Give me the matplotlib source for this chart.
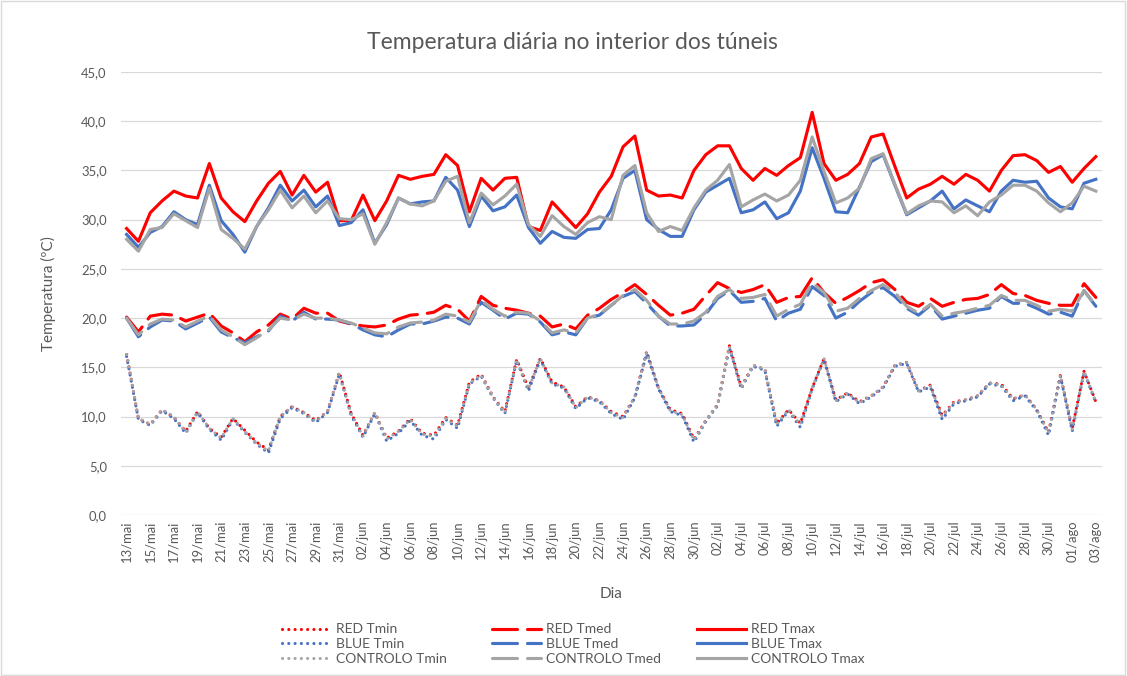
import matplotlib
matplotlib.use("Agg")
import matplotlib.pyplot as plt
import pandas as pd

plt.rcParams['font.family'] = ['Lato', 'DejaVu Sans']

# dias (13/mai a 03/ago)
meses = {5: 'mai', 6: 'jun', 7: 'jul', 8: 'ago'}
dias = pd.date_range('2021-05-13', '2021-08-03')
rotulos = [f"{d.day:02d}/{meses[d.month]}" for d in dias]

tmin_red = [16.3, 9.8, 9.2, 10.7, 9.9, 8.5, 10.5, 8.8, 7.9, 9.8,
            8.6, 7.4, 6.6, 10.0, 11.0, 10.4, 9.6, 10.5, 14.5, 10.3,
            8.1, 10.4, 7.8, 8.5, 9.8, 8.3, 8.1, 9.9, 9.1, 13.5,
            14.3, 12.0, 10.5, 15.8, 12.9, 15.9, 13.5, 13.0, 11.0, 12.0,
            11.6, 10.5, 10.0, 12.0, 16.6, 12.9, 10.7, 10.3, 7.7, 9.6,
            11.2, 17.2, 13.0, 15.2, 14.8, 9.3, 10.7, 9.3, 12.9, 15.9,
            11.7, 12.4, 11.5, 12.1, 13.0, 15.2, 15.5, 12.6, 13.2, 10.1,
            11.5, 11.7, 12.1, 13.4, 13.3, 11.8, 12.2, 10.7, 8.4, 14.2,
            8.8, 14.6, 11.5]
tmin_blue = [16.1, 9.7, 9.1, 10.6, 9.8, 8.3, 10.4, 8.7, 7.6, 9.7,
             8.4, 7.2, 6.3, 9.8, 10.9, 10.3, 9.4, 10.4, 14.3, 10.1,
             7.9, 10.3, 7.5, 8.3, 9.6, 8.1, 7.7, 9.7, 8.8, 13.3,
             14.1, 11.9, 10.3, 15.7, 12.6, 15.8, 13.3, 12.9, 10.8, 11.9,
             11.5, 10.3, 9.7, 11.9, 16.4, 12.8, 10.5, 10.1, 7.4, 9.5,
             11.1, 17.0, 12.8, 15.1, 14.7, 9.0, 10.6, 8.9, 12.8, 15.8,
             11.5, 12.3, 11.3, 12.0, 12.9, 15.1, 15.4, 12.5, 13.0, 9.7,
             11.3, 11.6, 12.0, 13.3, 13.1, 11.6, 12.1, 10.6, 8.1, 14.1,
             8.5, 14.5, 11.4]
tmin_ctrl = [16.3, 9.8, 9.2, 10.7, 10.0, 8.4, 10.5, 8.8, 7.8, 9.8,
             8.5, 7.3, 6.5, 10.0, 11.0, 10.4, 9.5, 10.5, 14.4, 10.3,
             8.0, 10.4, 7.7, 8.5, 9.7, 8.2, 8.0, 9.8, 9.0, 13.4,
             14.2, 12.0, 10.4, 15.8, 12.8, 15.9, 13.4, 13.0, 10.9, 12.0,
             11.6, 10.4, 9.9, 12.0, 16.5, 12.9, 10.6, 10.2, 7.6, 9.6,
             11.2, 17.1, 12.9, 15.2, 14.8, 9.2, 10.7, 9.2, 12.9, 15.9,
             11.6, 12.4, 11.4, 12.1, 13.0, 15.2, 15.5, 12.6, 13.1, 10.0,
             11.4, 11.7, 12.1, 13.4, 13.2, 11.8, 12.2, 10.7, 8.3, 14.2,
             8.7, 14.6, 11.5]

tmed_red = [20.1, 18.6, 20.2, 20.4, 20.3, 19.7, 20.1, 20.5, 19.2, 18.5,
            17.6, 18.6, 19.3, 20.4, 19.9, 21.0, 20.5, 20.5, 19.7, 19.4,
            19.2, 19.1, 19.3, 19.9, 20.3, 20.4, 20.6, 21.3, 20.9, 19.7,
            22.2, 21.3, 21.0, 20.8, 20.5, 20.2, 19.1, 19.4, 18.9, 20.3,
            21.0, 21.9, 22.6, 23.4, 22.4, 21.3, 20.3, 20.5, 20.9, 22.3,
            23.6, 23.0, 22.6, 22.9, 23.4, 21.6, 22.1, 22.2, 24.1, 22.6,
            21.5, 22.1, 22.8, 23.6, 23.9, 22.9, 21.6, 21.2, 22.0, 21.2,
            21.6, 21.9, 22.0, 22.4, 23.4, 22.5, 22.3, 21.8, 21.5, 21.3,
            21.3, 23.5, 22.1]
tmed_blue = [20.0, 18.1, 19.1, 19.8, 19.7, 18.9, 19.5, 20.1, 18.6, 18.0,
             17.5, 18.1, 18.7, 20.2, 19.7, 20.6, 19.9, 19.9, 19.8, 19.4,
             18.8, 18.3, 18.1, 18.8, 19.4, 19.4, 19.7, 20.1, 20.0, 19.4,
             21.6, 20.8, 19.9, 20.5, 20.4, 19.6, 18.3, 18.6, 18.3, 20.0,
             20.3, 21.3, 22.2, 22.7, 21.5, 20.2, 19.2, 19.2, 19.3, 20.4,
             22.0, 22.8, 21.6, 21.7, 22.0, 19.7, 20.5, 20.9, 23.2, 22.3,
             20.0, 20.6, 21.7, 22.6, 23.1, 22.2, 21.0, 20.3, 21.3, 19.9,
             20.2, 20.5, 20.8, 21.0, 22.2, 21.5, 21.5, 21.0, 20.4, 20.6,
             20.2, 22.8, 21.2]
tmed_ctrl = [20.0, 18.3, 19.4, 19.9, 19.8, 19.1, 19.7, 20.2, 18.8, 18.1,
             17.3, 18.0, 18.8, 20.0, 19.8, 20.4, 20.0, 20.0, 19.8, 19.5,
             19.0, 18.5, 18.4, 19.1, 19.5, 19.6, 19.8, 20.4, 20.2, 19.6,
             21.8, 20.9, 20.2, 20.6, 20.5, 19.7, 18.5, 18.8, 18.5, 20.0,
             20.4, 21.3, 22.3, 22.9, 21.8, 20.2, 19.4, 19.4, 19.7, 20.6,
             22.2, 22.9, 22.0, 22.1, 22.4, 20.2, 20.9, 21.4, 23.6, 22.6,
             20.7, 21.0, 22.0, 22.8, 23.4, 22.6, 21.2, 20.5, 21.4, 20.2,
             20.5, 20.7, 21.0, 21.3, 22.3, 21.8, 21.8, 21.3, 20.7, 20.9,
             20.7, 22.8, 21.3]

tmax_red = [29.1, 27.8, 30.7, 31.9, 32.9, 32.4, 32.2, 35.7, 32.2, 30.8,
            29.8, 31.9, 33.7, 34.9, 32.5, 34.5, 32.8, 33.8, 29.9, 29.9,
            32.5, 29.9, 31.9, 34.5, 34.1, 34.4, 34.6, 36.6, 35.5, 30.8,
            34.2, 33.0, 34.2, 34.3, 29.3, 28.9, 31.8, 30.5, 29.2, 30.6,
            32.8, 34.4, 37.4, 38.5, 33.0, 32.4, 32.5, 32.2, 35.0, 36.6,
            37.5, 37.5, 35.2, 34.0, 35.2, 34.5, 35.5, 36.3, 40.9, 35.7,
            34.0, 34.6, 35.7, 38.4, 38.7, 35.4, 32.2, 33.1, 33.6, 34.4,
            33.6, 34.6, 34.0, 32.9, 35.0, 36.5, 36.6, 36.0, 34.8, 35.4,
            33.8, 35.2, 36.4]
tmax_blue = [28.5, 27.2, 28.7, 29.3, 30.8, 30.0, 29.5, 33.5, 29.9, 28.5,
             26.7, 29.3, 31.2, 33.5, 31.9, 33.0, 31.3, 32.4, 29.4, 29.7,
             31.0, 27.6, 29.5, 32.2, 31.6, 31.8, 31.9, 34.3, 33.0, 29.3,
             32.4, 30.9, 31.3, 32.5, 29.2, 27.6, 28.8, 28.2, 28.1, 29.0,
             29.1, 31.0, 34.2, 35.0, 30.0, 29.0, 28.3, 28.3, 31.0, 32.8,
             33.5, 34.2, 30.7, 31.0, 31.8, 30.1, 30.7, 32.9, 37.3, 34.2,
             30.8, 30.7, 33.3, 35.9, 36.6, 33.5, 30.5, 31.2, 31.9, 32.9,
             31.1, 32.0, 31.4, 30.8, 32.9, 34.0, 33.8, 33.9, 32.2, 31.3,
             31.1, 33.7, 34.1]
tmax_ctrl = [28.0, 26.8, 29.0, 29.2, 30.6, 29.9, 29.2, 33.2, 29.0, 28.1,
             27.0, 29.3, 31.0, 33.0, 31.2, 32.4, 30.7, 31.9, 30.1, 30.0,
             30.6, 27.5, 29.7, 32.2, 31.6, 31.4, 31.9, 33.9, 34.4, 29.7,
             32.7, 31.5, 32.4, 33.6, 29.5, 28.3, 30.4, 29.3, 28.5, 29.7,
             30.3, 30.0, 34.5, 35.5, 30.7, 28.8, 29.3, 28.9, 31.2, 33.0,
             34.0, 35.6, 31.3, 32.0, 32.6, 31.9, 32.5, 34.0, 38.4, 34.9,
             31.7, 32.2, 33.2, 36.2, 36.7, 33.6, 30.6, 31.4, 31.9, 31.8,
             30.7, 31.4, 30.4, 31.8, 32.5, 33.5, 33.5, 32.9, 31.7, 30.8,
             31.7, 33.4, 32.9]

cor = {'RED': '#FF0000', 'BLUE': '#4472C4', 'CONTROLO': '#A5A5A5'}
dados = {'RED': (tmin_red, tmed_red, tmax_red),
         'BLUE': (tmin_blue, tmed_blue, tmax_blue),
         'CONTROLO': (tmin_ctrl, tmed_ctrl, tmax_ctrl)}

cinza = '#595959'
lw = 2.25
x = list(range(len(rotulos)))

fig = plt.figure(figsize=(11.27, 6.76), dpi=100)
ax = fig.add_axes([0.1071, 0.2382, 0.8705, 0.6553])

handles = {}
z = 3
for nome, (tmin, tmed, tmax) in dados.items():
    c = cor[nome]
    h1, = ax.plot(x, tmin, color=c, lw=lw, linestyle=(0, (0.01, 2.0)),
                  dash_capstyle='round', zorder=z)
    h2, = ax.plot(x, tmed, color=c, lw=lw, linestyle=(0, (8, 3.2)),
                  dash_capstyle='round', solid_joinstyle='round', zorder=z + 1)
    h3, = ax.plot(x, tmax, color=c, lw=lw, solid_joinstyle='round', zorder=z + 2)
    handles[nome] = (h1, h2, h3)
    z += 3

ax.set_xlim(-0.5, len(x) - 0.5)
ax.set_ylim(0, 45)
ax.set_yticks(range(0, 46, 5))
ax.set_yticklabels([f"{v:.1f}".replace('.', ',') for v in range(0, 46, 5)],
                   color=cinza, fontsize=9.4)
ax.set_xticks(x[::2])
ax.set_xticklabels(rotulos[::2], rotation=90, color=cinza, fontsize=9.4)
ax.tick_params(axis='both', length=0)
ax.tick_params(axis='y', pad=10)
ax.tick_params(axis='x', pad=4)
ax.grid(axis='y', color='#D9D9D9', lw=0.9, zorder=0)
for s in ax.spines.values():
    s.set_visible(False)

ax.set_xlabel('Dia', color=cinza, fontsize=11, labelpad=18)
ax.set_ylabel('Temperatura (ºC)', color=cinza, fontsize=11, labelpad=18)
fig.text(0.508, 0.937, 'Temperatura diária no interior dos túneis',
         ha='center', va='center', color=cinza, fontsize=16.5)

# legenda em tres colunas (Tmin, Tmed, Tmax)
sufixos = ['Tmin', 'Tmed', 'Tmax']
xs = [282 / 1127, 492 / 1127, 697 / 1127]
for k in range(3):
    hs = [handles[n][k] for n in dados]
    labs = [f"{n} {sufixos[k]}" for n in dados]
    leg = fig.legend(hs, labs, loc='center left', bbox_to_anchor=(xs[k], 0.047),
                     frameon=False, fontsize=10, handlelength=3.5,
                     handletextpad=0.4, labelspacing=0.2, borderpad=0,
                     borderaxespad=0)
    for t in leg.get_texts():
        t.set_color(cinza)

fig.patches.append(plt.Rectangle((0.001, 0.001), 0.997, 0.997, transform=fig.transFigure,
                                 fill=False, edgecolor='#D9D9D9', lw=1))

fig.savefig('out.png', dpi=100)
